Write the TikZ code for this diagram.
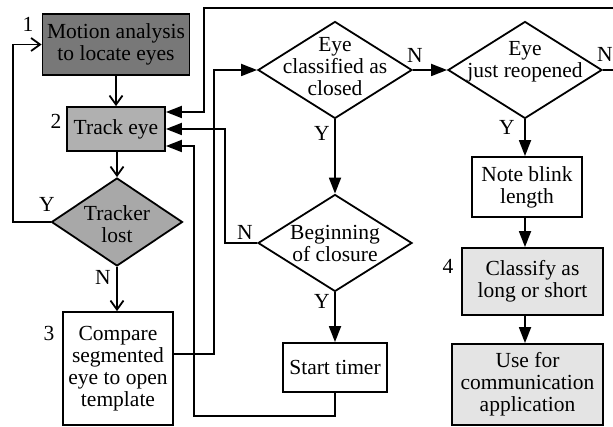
\documentclass[tikz,border=0pt]{standalone}
\usepackage{fontspec}
\setmainfont{Liberation Serif}
\usetikzlibrary{shapes.geometric,arrows.meta}
\definecolor{dark}{HTML}{787878}
\definecolor{mid}{HTML}{B0B0B0}
\definecolor{midd}{HTML}{A8A8A8}
\definecolor{light}{HTML}{E4E4E4}
\newcommand{\fsz}{\fontsize{21.5}{22}\selectfont}
\tikzset{
  every path/.style={line width=1.8pt},
  box/.style={draw, line width=1.8pt, inner sep=0pt, align=center, font=\fsz},
  dia/.style={diamond, draw, line width=1.8pt, inner sep=0pt, aspect=1.6, minimum width=154pt, minimum height=97pt},
  txt/.style={inner sep=0pt, align=center, font=\fsz},
  lbl/.style={inner sep=0pt, font=\fsz},
  tri/.style={-{Triangle[length=16pt,width=12pt]}},
  barb/.style={-{Straight Barb[length=9pt,width=13pt,line width=1.8pt]}},
}
\begin{document}
\begin{tikzpicture}[x=1pt,y=-1pt]
\useasboundingbox (0,0) rectangle (613,427);
% boxes
\node[box, fill=dark, minimum width=147pt, minimum height=61pt] (b1) at (116,44.5) {Motion analysis\\to locate eyes};
\node[box, fill=mid, minimum width=98pt, minimum height=44pt] (b2) at (116,129) {Track eye};
\node[dia, fill=midd, minimum width=131pt, minimum height=88pt] (t) at (117,222) {};
\node[txt] (tt) at (117,224) {Tracker\\lost};
\node[box, minimum width=110pt, minimum height=113pt] (b3) at (118,368.5) {Compare\\segmented\\eye to open\\template};
\node[dia] (d2) at (335,70) {};
\node[txt] (d2t) at (335,67) {Eye\\classified as\\closed};
\node[dia] (d3) at (525,70) {};
\node[txt] (d3t) at (525,62) {Eye\\just reopened};
\node[dia] (d4) at (335,243) {};
\node[txt] (d4t) at (335,243) {Beginning\\of closure};
\node[box, minimum width=104pt, minimum height=49pt] (st) at (335,367.5) {Start timer};
\node[box, minimum width=110pt, minimum height=60pt] (nb) at (527,187) {Note blink\\length};
\node[box, fill=light, minimum width=141pt, minimum height=67pt] (cl) at (532.5,281.5) {Classify as\\long or short};
\node[box, fill=light, minimum width=151pt, minimum height=81pt] (us) at (527.5,384.5) {Use for\\communication\\application};
% numbers
\node[lbl] (n1) at (28,24) {1};
\node[lbl] (n2) at (56,121) {2};
\node[lbl] (n3) at (49,333) {3};
\node[lbl] (n4) at (448,266) {4};
% coordinates
\coordinate (cY) at (13,222);
\coordinate (k1) at (214,354);
\coordinate (cTR) at (617,8);
\coordinate (cA) at (204,112);
\coordinate (cB) at (225,129);
\coordinate (cC) at (194,416);
\coordinate (cD) at (194,146);
% connectors
\draw[barb] (b1) -- (b2);
\draw[barb] (b2.south -| t.north) -- (t.north);
\draw[barb] (t.west) -- (cY) |- (b1.west);
\draw[barb] (t.south) -- (t.south |- b3.north);
\draw[tri] (b3.east |- k1) -- (k1) |- (d2.west);
\draw[tri] (d2.east) -- (d3.west);
\draw[tri] (d3.east) -| (cTR) -| (cA) -- (cA -| b2.east);
\draw[tri] (d2.south) -- (d4.north);
\draw[tri] (d4.west) -| (cB) -- (cB -| b2.east);
\draw[tri] (d4.south) -- (st.north);
\draw[tri] (st.south) |- (cC) |- (cD -| b2.east);
\draw[tri] (d3.south) -- (d3.south |- nb.north);
\draw[tri] (d3.south |- nb.south) -- (d3.south |- cl.north);
\draw[tri] (d3.south |- cl.south) -- (d3.south |- us.north);
% branch labels
\node[lbl] (lY1) at (47,204) {Y};
\node[lbl] (lN1) at (103,277) {N};
\node[lbl] (lN2) at (415,55) {N};
\node[lbl] (lY2) at (322,133) {Y};
\node[lbl] (lN3) at (605,54) {N};
\node[lbl] (lY3) at (507,127) {Y};
\node[lbl] (lN4) at (245,232) {N};
\node[lbl] (lY4) at (322,301) {Y};
\end{tikzpicture}
\end{document}
